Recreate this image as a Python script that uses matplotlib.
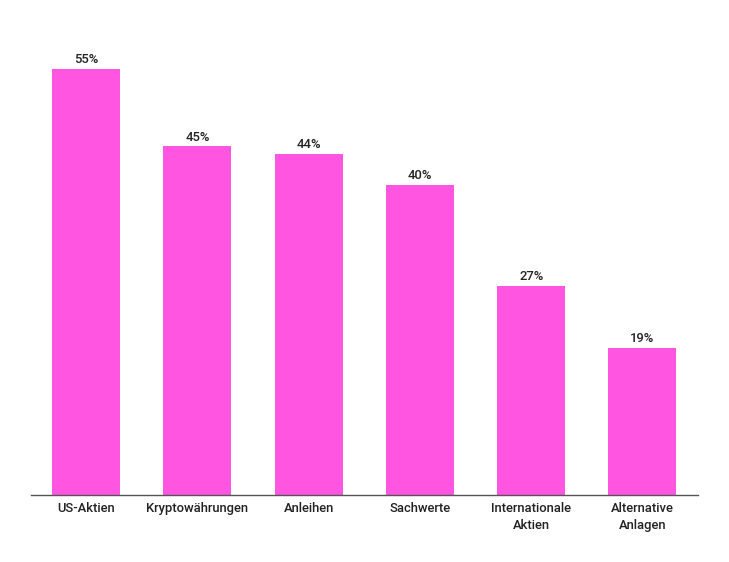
import matplotlib
matplotlib.use("Agg")
import matplotlib.pyplot as plt

categories = ["US-Aktien", "Kryptowährungen", "Anleihen", "Sachwerte",
              "Internationale\nAktien", "Alternative\nAnlagen"]
values = [55, 45, 44, 40, 27, 19]

plt.rcParams['font.family'] = ['Roboto', 'DejaVu Sans']

fig = plt.figure(figsize=(7.29, 5.62), dpi=100)
ax = fig.add_axes([30.5 / 729, 67 / 562, 667.5 / 729, 465 / 562])

x = range(len(categories))
bars = ax.bar(x, values, width=0.61, color='#FF55E0')
for b, v in zip(bars, values):
    ax.text(b.get_x() + b.get_width() / 2, v + 0.35, f"{v}%", ha='center', va='bottom',
            fontsize=9.4, fontweight='medium', color='#222222')

ax.set_xlim(-0.5, len(categories) - 0.5)
ax.set_ylim(0, 60)
ax.set_xticks(list(x))
ax.set_xticklabels(categories, fontsize=9.4, fontweight='medium', color='#222222',
                   linespacing=1.4)
ax.tick_params(axis='x', length=0, pad=5)
ax.set_yticks([])
for s in ['top', 'right', 'left']:
    ax.spines[s].set_visible(False)
ax.spines['bottom'].set_color('#555555')
ax.spines['bottom'].set_linewidth(1)

fig.savefig('out.png', dpi=100)
